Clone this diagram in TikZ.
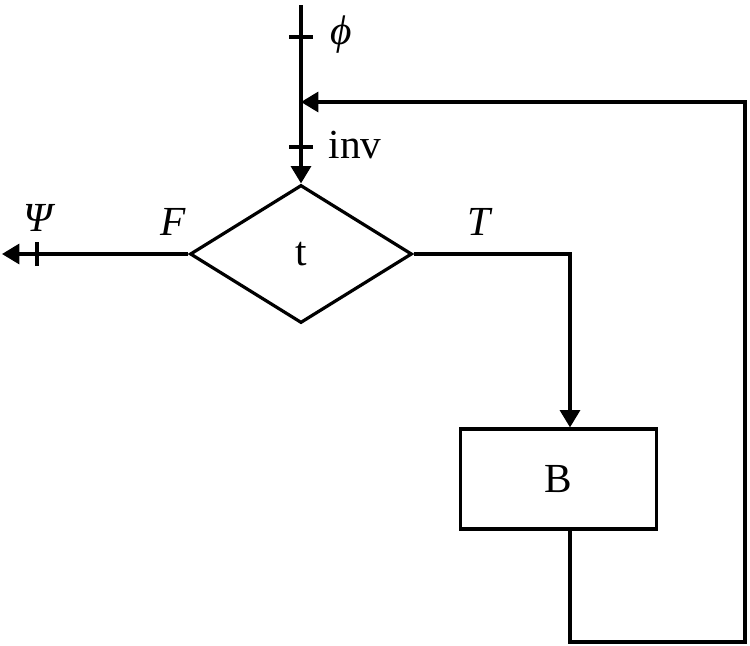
\documentclass[tikz,border=0pt]{standalone}
\usepackage{fontspec}
\setmainfont{Liberation Serif}
\usetikzlibrary{shapes.geometric,arrows.meta}
\begin{document}
\begin{tikzpicture}[x=0.75pt,y=-0.75pt,
  mainline/.style={line width=2.4pt},
  arr/.style={mainline, -{Triangle[length=13pt,width=15pt]}},
  lbl/.style={font=\fontsize{31}{34}\selectfont, inner sep=0pt},
  tick/.style={line width=2.4pt}]
\useasboundingbox (0,0) rectangle (750,646);
\node[draw, mainline, diamond, minimum width=166.5pt, minimum height=103.5pt, inner sep=0pt] (dec) at (301,254) {};
\node[lbl] (tl) at (301,254) {t};
\node[draw, mainline, rectangle, minimum width=147pt, minimum height=75pt, inner sep=0pt] (body) at (558.5,479) {};
\node[lbl] (bl) at (558,479) {B};
\coordinate (top) at (301,5);
\coordinate (join) at (301,102);
\coordinate (t1) at (301,37);
\coordinate (t2) at (301,147);
\coordinate (lend) at (2,254);
\coordinate (t3) at (37,254);
\coordinate (rc) at (570,254);
\coordinate (bb) at (570,642);
\coordinate (br) at (745,642);
\coordinate (tr) at (745,102);
\draw[arr] (top) -- (dec.north);
\draw[tick] ([xshift=-9pt]t1) -- ([xshift=9pt]t1);
\draw[tick] ([xshift=-9pt]t2) -- ([xshift=9pt]t2);
\draw[arr] (dec.west) -- (lend);
\draw[tick] ([yshift=-9pt]t3) -- ([yshift=9pt]t3);
\draw[arr] (dec.east) -- (rc) -- (rc |- body.north);
\draw[arr] (rc |- body.south) -- (bb) -- (br) -- (tr) -- (join);
\node[lbl] (phi) at (341,35) {\textit{ϕ}};
\node[lbl] (inv) at (355,145) {inv};
\node[lbl] (psi) at (40,218) {\textit{Ψ}};
\node[lbl] (fl) at (173,222) {\textit{F}};
\node[lbl] (tt) at (480,222) {\textit{T}};
\end{tikzpicture}
\end{document}
